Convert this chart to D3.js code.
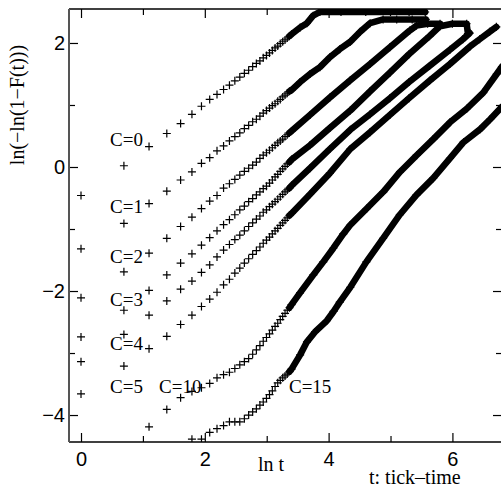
<!DOCTYPE html>
<html>
<head>
<meta charset="utf-8">
<script src="https://cdn.jsdelivr.net/npm/d3@7"></script>
<style>
  body { margin: 0; background: #fff; }
</style>
</head>
<body>
<div id="chart"></div>
<script>
// each series: [ln t, ln(-ln(1-F(t)))]
const c0 = [[0,-0.46],[0.693,0.02],[1.099,0.33],[1.386,0.54],[1.609,0.70],[1.792,0.85],[1.946,0.98],[2.079,1.09],[2.197,1.17],[2.303,1.25],[2.398,1.32],[2.485,1.39],[2.565,1.45],[2.639,1.51],[2.708,1.56],[2.773,1.62],[2.833,1.67],[2.890,1.71],[2.944,1.76],[2.996,1.80],[3.045,1.84],[3.091,1.88],[3.135,1.92],[3.178,1.95],[3.219,1.99],[3.258,2.02],[3.296,2.05],[3.332,2.08],[3.367,2.11],[3.401,2.14],[3.54,2.25],[3.65,2.32],[3.75,2.44],[3.86,2.50],[4.2,2.50],[4.6,2.50],[5.0,2.50],[5.3,2.50],[5.56,2.50]];
const c1 = [[0,-1.32],[0.693,-0.91],[1.099,-0.59],[1.386,-0.39],[1.609,-0.21],[1.792,-0.08],[1.946,0.06],[2.079,0.15],[2.197,0.26],[2.303,0.34],[2.398,0.42],[2.485,0.49],[2.565,0.55],[2.639,0.62],[2.708,0.67],[2.773,0.73],[2.833,0.77],[2.890,0.82],[2.944,0.87],[2.996,0.91],[3.045,0.95],[3.091,0.99],[3.135,1.02],[3.178,1.06],[3.219,1.09],[3.258,1.13],[3.296,1.16],[3.332,1.19],[3.367,1.22],[3.401,1.24],[3.54,1.37],[3.70,1.50],[3.86,1.61],[4.02,1.77],[4.18,1.90],[4.35,2.02],[4.51,2.18],[4.67,2.32],[4.88,2.38],[5.1,2.38],[5.35,2.38],[5.57,2.38]];
const c2 = [[0,-2.11],[0.693,-1.69],[1.099,-1.39],[1.386,-1.15],[1.609,-0.96],[1.792,-0.81],[1.946,-0.67],[2.079,-0.55],[2.197,-0.46],[2.303,-0.34],[2.398,-0.27],[2.485,-0.20],[2.565,-0.13],[2.639,-0.07],[2.708,-0.02],[2.773,0.03],[2.833,0.08],[2.890,0.14],[2.944,0.19],[2.996,0.23],[3.045,0.27],[3.091,0.31],[3.135,0.35],[3.178,0.39],[3.219,0.42],[3.258,0.45],[3.296,0.49],[3.332,0.52],[3.367,0.55],[3.401,0.58],[3.70,0.84],[4.02,1.12],[4.35,1.40],[4.67,1.66],[4.99,1.93],[5.31,2.20],[5.42,2.28],[5.6,2.31],[5.80,2.31]];
const c3 = [[0,-2.74],[0.693,-2.31],[1.099,-1.99],[1.386,-1.74],[1.609,-1.55],[1.792,-1.40],[1.946,-1.26],[2.079,-1.14],[2.197,-1.03],[2.303,-0.93],[2.398,-0.85],[2.485,-0.77],[2.565,-0.69],[2.639,-0.63],[2.708,-0.56],[2.773,-0.51],[2.833,-0.45],[2.890,-0.40],[2.944,-0.35],[2.996,-0.31],[3.045,-0.26],[3.091,-0.21],[3.135,-0.16],[3.178,-0.12],[3.219,-0.07],[3.258,-0.03],[3.296,0.01],[3.332,0.05],[3.367,0.08],[3.401,0.12],[3.70,0.35],[4.02,0.63],[4.35,0.91],[4.67,1.22],[4.99,1.52],[5.30,1.82],[5.63,2.11],[5.80,2.27],[6.0,2.31],[6.23,2.31],[6.25,2.15]];
const c4 = [[0,-3.14],[0.693,-2.70],[1.099,-2.39],[1.386,-2.16],[1.609,-1.97],[1.792,-1.84],[1.946,-1.70],[2.079,-1.58],[2.197,-1.45],[2.303,-1.34],[2.398,-1.25],[2.485,-1.17],[2.565,-1.10],[2.639,-1.03],[2.708,-0.96],[2.773,-0.90],[2.833,-0.84],[2.890,-0.79],[2.944,-0.73],[2.996,-0.69],[3.045,-0.64],[3.091,-0.60],[3.135,-0.56],[3.178,-0.52],[3.219,-0.48],[3.258,-0.44],[3.296,-0.40],[3.332,-0.37],[3.367,-0.34],[3.401,-0.30],[3.70,-0.02],[4.02,0.29],[4.35,0.60],[4.67,0.85],[4.99,1.11],[5.30,1.37],[5.63,1.63],[5.96,1.89],[6.17,2.06],[6.28,2.16]];
const c5 = [[0,-3.66],[0.693,-3.21],[1.099,-2.93],[1.386,-2.73],[1.609,-2.54],[1.792,-2.39],[1.946,-2.25],[2.079,-2.13],[2.197,-2.02],[2.303,-1.90],[2.398,-1.81],[2.485,-1.71],[2.565,-1.63],[2.639,-1.55],[2.708,-1.48],[2.773,-1.41],[2.833,-1.35],[2.890,-1.29],[2.944,-1.23],[2.996,-1.18],[3.045,-1.13],[3.091,-1.08],[3.135,-1.03],[3.178,-0.99],[3.219,-0.94],[3.258,-0.90],[3.296,-0.86],[3.332,-0.82],[3.367,-0.78],[3.401,-0.75],[3.70,-0.44],[4.02,-0.10],[4.35,0.29],[4.67,0.56],[4.99,0.84],[5.30,1.11],[5.63,1.39],[5.96,1.66],[6.28,1.94],[6.44,2.06],[6.60,2.18],[6.71,2.26]];
const c10 = [[1.099,-4.19],[1.386,-3.91],[1.609,-3.72],[1.792,-3.62],[1.946,-3.56],[2.079,-3.49],[2.197,-3.40],[2.303,-3.35],[2.398,-3.31],[2.485,-3.25],[2.565,-3.19],[2.639,-3.14],[2.708,-3.09],[2.773,-3.02],[2.833,-2.95],[2.890,-2.88],[2.944,-2.81],[2.996,-2.75],[3.045,-2.69],[3.091,-2.63],[3.135,-2.57],[3.178,-2.52],[3.219,-2.46],[3.258,-2.41],[3.296,-2.36],[3.332,-2.31],[3.367,-2.27],[3.401,-2.22],[3.538,-2.03],[3.753,-1.74],[3.914,-1.53],[4.076,-1.31],[4.237,-1.08],[4.346,-0.94],[4.616,-0.67],[4.884,-0.40],[5.153,-0.08],[5.423,0.19],[5.691,0.45],[5.961,0.72],[6.231,0.94],[6.499,1.20],[6.716,1.50],[6.80,1.62]];
const c15 = [[1.792,-4.39],[1.946,-4.39],[2.079,-4.28],[2.197,-4.22],[2.303,-4.17],[2.398,-4.11],[2.485,-4.11],[2.565,-4.11],[2.639,-4.06],[2.708,-4.00],[2.773,-3.95],[2.833,-3.90],[2.890,-3.84],[2.944,-3.79],[2.996,-3.73],[3.045,-3.67],[3.091,-3.61],[3.135,-3.54],[3.178,-3.48],[3.219,-3.44],[3.258,-3.40],[3.296,-3.37],[3.332,-3.34],[3.367,-3.30],[3.401,-3.26],[3.54,-3.03],[3.65,-2.82],[3.78,-2.66],[3.97,-2.48],[4.08,-2.33],[4.18,-2.18],[4.35,-1.94],[4.61,-1.53],[4.88,-1.15],[5.15,-0.77],[5.42,-0.45],[5.69,-0.18],[5.96,0.14],[6.18,0.40],[6.45,0.61],[6.61,0.77],[6.80,0.97]];

const seriesList = [c0, c1, c2, c3, c4, c5, c10, c15];
const seriesNames = ["C=0", "C=1", "C=2", "C=3", "C=4", "C=5", "C=10", "C=15"];
// label anchors in data units
const labelAt = [[0.47,0.34],[0.47,-0.74],[0.47,-1.55],[0.47,-2.24],[0.47,-2.95],[0.47,-3.65],[1.26,-3.65],[3.36,-3.65]];

const xMajor = [0, 2, 4, 6];
const xMinor = [1, 3, 5];
const yMajor = [-4, -2, 0, 2];
const yMinor = [-3, -1, 1];

//size
const width = 501;
const height = 495;
const margin = { top: 9, right: -1, bottom: 53, left: 69 };
const innerWidth = width - margin.left - margin.right;
const innerHeight = height - margin.top - margin.bottom;

const x = d3.scaleLinear().domain([-0.194, 6.801]).range([0, innerWidth]);
const y = d3.scaleLinear().domain([-4.435, 2.548]).range([innerHeight, 0]);

const svg = d3.select("#chart")
  .append("svg")
  .attr("width", width)
  .attr("height", height);

svg.append("defs").append("clipPath").attr("id", "clip")
  .append("rect").attr("width", innerWidth).attr("height", innerHeight);

const g = svg.append("g").attr("transform", `translate(${margin.left},${margin.top})`);

const tickFont = "'Liberation Sans', Arial, sans-serif";
const serif = "'Liberation Serif', 'Times New Roman', serif";

function styleAxis(sel, keepText) {
  sel.select(".domain").remove();
  sel.selectAll("line").attr("stroke", "#000").attr("stroke-width", 1.2);
  if (keepText) {
    sel.selectAll("text").attr("font-family", tickFont).attr("font-size", 20).attr("fill", "#000");
  } else {
    sel.selectAll("text").remove();
  }
}

// bottom
g.append("g").attr("transform", `translate(0,${innerHeight})`)
  .call(d3.axisBottom(x).tickValues(xMajor).tickSize(-9).tickPadding(10).tickFormat(d3.format("d")))
  .call(styleAxis, true);
g.append("g").attr("transform", `translate(0,${innerHeight})`)
  .call(d3.axisBottom(x).tickValues(xMinor).tickSize(-6))
  .call(styleAxis, false);
// top
g.append("g")
  .call(d3.axisTop(x).tickValues(xMajor).tickSize(-9))
  .call(styleAxis, false);
g.append("g")
  .call(d3.axisTop(x).tickValues(xMinor).tickSize(-6))
  .call(styleAxis, false);
// left
g.append("g")
  .call(d3.axisLeft(y).tickValues(yMajor).tickSize(-9).tickPadding(4).tickFormat(d3.format("d")))
  .call(styleAxis, true);
g.append("g")
  .call(d3.axisLeft(y).tickValues(yMinor).tickSize(-6))
  .call(styleAxis, false);
// right
g.append("g").attr("transform", `translate(${innerWidth},0)`)
  .call(d3.axisRight(y).tickValues(yMajor).tickSize(-9))
  .call(styleAxis, false);
g.append("g").attr("transform", `translate(${innerWidth},0)`)
  .call(d3.axisRight(y).tickValues(yMinor).tickSize(-6))
  .call(styleAxis, false);

// frame
g.append("line").attr("x1", 0).attr("x2", innerWidth).attr("y1", 0).attr("y2", 0)
  .attr("stroke", "#000").attr("stroke-width", 1.5);
g.append("line").attr("x1", 0).attr("x2", innerWidth).attr("y1", innerHeight).attr("y2", innerHeight)
  .attr("stroke", "#000").attr("stroke-width", 1.5);
g.append("line").attr("x1", 0).attr("x2", 0).attr("y1", 0).attr("y2", innerHeight)
  .attr("stroke", "#555").attr("stroke-width", 2);

// data
const plot = g.append("g").attr("clip-path", "url(#clip)");
const line = d3.line().x((d) => x(d[0])).y((d) => y(d[1]));

seriesList.forEach((s) => {
  // dense part: points overlap into a solid band
  plot.append("path")
    .datum(s.filter((d) => d[0] >= 3.36))
    .attr("d", line)
    .attr("fill", "none")
    .attr("stroke", "#000")
    .attr("stroke-width", 6.5)
    .attr("stroke-linejoin", "round")
    .attr("stroke-linecap", "round");

  plot.append("g")
    .selectAll("path")
    .data(s)
    .join("path")
    .attr("transform", (d) => `translate(${x(d[0])},${y(d[1])})`)
    .attr("d", "M-4,0H4M0,-4V4")
    .attr("stroke", "#000")
    .attr("stroke-width", 1.2);
});

// series labels
g.append("g")
  .selectAll("text")
  .data(seriesNames)
  .join("text")
  .attr("x", (d, i) => x(labelAt[i][0]))
  .attr("y", (d, i) => y(labelAt[i][1]))
  .attr("font-family", serif)
  .attr("font-size", 19)
  .attr("fill", "#000")
  .text((d) => d);

// axis titles
svg.append("text")
  .attr("transform", "translate(24,105) rotate(-90)")
  .attr("text-anchor", "middle")
  .attr("font-family", serif)
  .attr("font-size", 20)
  .text("ln(\u2212ln(1\u2212F(t)))");

svg.append("text")
  .attr("x", 258)
  .attr("y", 471)
  .attr("font-family", serif)
  .attr("font-size", 20)
  .text("ln t");

svg.append("text")
  .attr("x", 369)
  .attr("y", 484)
  .attr("font-family", serif)
  .attr("font-size", 20)
  .text("t: tick\u2013time");
</script>
</body>
</html>
